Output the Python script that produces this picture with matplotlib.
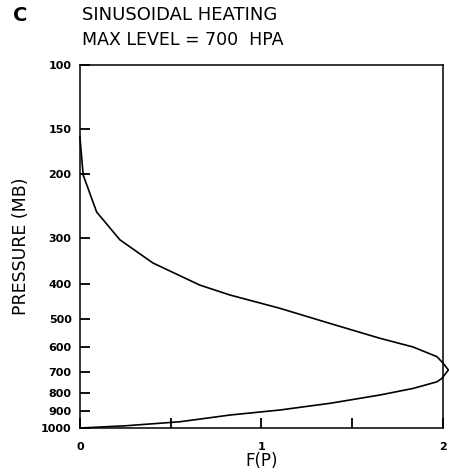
import numpy as np
import matplotlib
matplotlib.use("Agg")
import matplotlib.pyplot as plt

# profile: heating F(P) against pressure (mb)
f_vals = [0.0, 0.018, 0.092, 0.22, 0.402, 0.661, 0.826, 1.102, 1.377, 1.653,
          1.835, 1.967, 2.0, 2.03, 1.994, 1.967, 1.835, 1.653, 1.377, 1.102,
          0.826, 0.551, 0.25, 0.0]
p_vals = [158, 201, 254, 303, 351, 404, 430, 468, 515, 566,
          598, 636, 662, 692, 730, 746, 778, 811, 855, 892,
          921, 961, 986, 1000]

y_ticks = [100, 150, 200, 300, 400, 500, 600, 700, 800, 900, 1000]
y_labels = ["100", "150", "200", "300", "400", "500", "600", "700", "800", "900", "1000"]
x_ticks = [0, 1, 2]
x_minor = [0.5, 1.5]

fig = plt.figure(figsize=(4.49, 4.76), dpi=100)
ax = fig.add_axes([0.178, 0.1008, 0.8085, 0.7626])

ax.plot(f_vals, p_vals, color="black", lw=1.2, clip_on=False)

ax.set_yscale("log")
ax.set_ylim(1000, 100)
ax.set_xlim(0, 2)
ax.set_yticks(y_ticks)
ax.set_yticklabels(y_labels, fontsize=8, fontweight="bold")
ax.yaxis.set_minor_locator(matplotlib.ticker.NullLocator())
ax.set_xticks(x_ticks)
ax.set_xticklabels(["0", "1", "2"], fontsize=8, fontweight="bold")
ax.set_xticks(x_minor, minor=True)
ax.tick_params(axis="both", which="both", direction="in", length=7, width=1.3)
ax.tick_params(axis="x", pad=10)
ax.tick_params(axis="y", pad=6)
for s in ax.spines.values():
    s.set_linewidth(1.1)

ax.set_ylabel("PRESSURE (MB)", fontsize=12.5, labelpad=8)
ax.set_xlabel("F(P)", fontsize=12, labelpad=0)

fig.text(0.183, 0.968, "SINUSOIDAL HEATING", fontsize=13, va="center", ha="left")
fig.text(0.183, 0.915, "MAX LEVEL = 700  HPA", fontsize=12.5, va="center", ha="left")
fig.text(0.045, 0.968, "C", fontsize=14, fontweight="black", va="center", ha="center")

fig.savefig("out.png", dpi=100)
